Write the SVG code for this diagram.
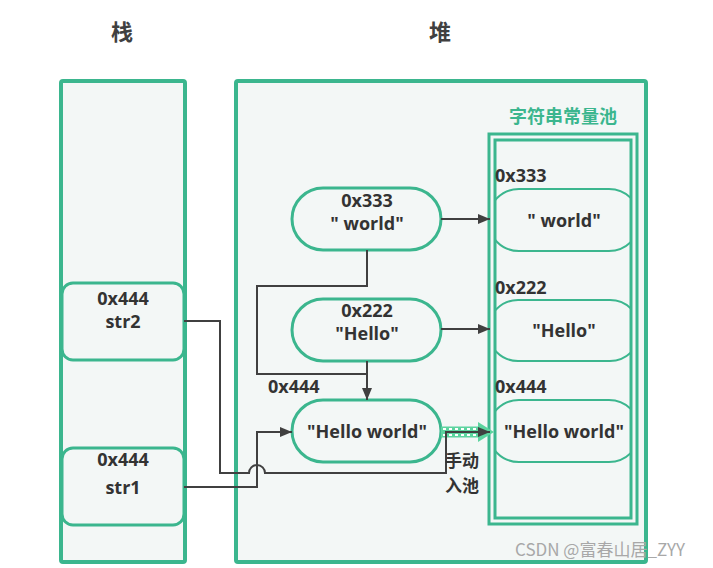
<svg xmlns="http://www.w3.org/2000/svg" width="713" height="568" viewBox="0 0 713 568">
<defs>
<style>
.box{fill:#f3f7f6;stroke:#3bb68e;stroke-width:4}
.pool{fill:none;stroke:#3bb68e;stroke-width:3}
.node{fill:#f3f7f6;stroke:#3bb68e;stroke-width:3}
.pnode{fill:none;stroke:#3bb68e;stroke-width:2}
.t{font-family:"Open Sans","Noto Sans CJK SC",sans-serif;font-weight:bold;font-size:18px;fill:#333333;text-anchor:middle}
.tl{font-family:"Open Sans","Noto Sans CJK SC",sans-serif;font-weight:bold;font-size:18px;fill:#333333}
.title{font-family:"Noto Sans CJK SC",sans-serif;font-weight:bold;font-size:22px;fill:#404040;text-anchor:middle}
.cn{font-family:"Noto Sans CJK SC",sans-serif;font-weight:bold;font-size:17px;fill:#333333}
.edge{fill:none;stroke:#404040;stroke-width:2}
</style>
<marker id="ah" viewBox="0 0 12 10" refX="12" refY="5" markerWidth="12" markerHeight="10" markerUnits="userSpaceOnUse" orient="auto">
<path d="M0,0 L12,5 L0,10 Z" fill="#404040"/>
</marker>
<clipPath id="pc"><rect x="496" y="140" width="135" height="378"/></clipPath>
</defs>
<rect width="713" height="568" fill="#ffffff"/>

<g id="titles">
<text class="title" x="122" y="40">栈</text>
<text class="title" x="440" y="40">堆</text>
</g>

<g id="stack"><rect class="box" x="61" y="81" width="124" height="481" rx="2"/></g>
<g id="heap"><rect class="box" x="236" y="81" width="410" height="481" rx="2"/></g>

<g id="pool">
<rect class="pool" x="489" y="134" width="148" height="390"/>
<rect class="pool" x="495" y="140" width="136" height="378"/>
<text x="563" y="123" style="font-family:'Noto Sans CJK SC',sans-serif;font-weight:bold;font-size:18px;fill:#3bb68e;text-anchor:middle">字符串常量池</text>
</g>

<g id="pool-world">
<rect class="pnode" x="488" y="189" width="152" height="62" rx="31" clip-path="url(#pc)"/>
<text class="tl" x="495" y="182">0x333</text>
<text class="t" x="564" y="227">" world"</text>
</g>
<g id="pool-hello">
<rect class="pnode" x="488" y="300" width="152" height="61" rx="30" clip-path="url(#pc)"/>
<text class="tl" x="495" y="294">0x222</text>
<text class="t" x="564" y="337">"Hello"</text>
</g>
<g id="pool-helloworld">
<rect class="pnode" x="488" y="400" width="152" height="62" rx="31" clip-path="url(#pc)"/>
<text class="tl" x="495" y="393">0x444</text>
<text class="t" x="564" y="438">"Hello world"</text>
</g>

<g id="heap-world">
<rect class="node" x="292" y="188" width="149" height="62" rx="31"/>
<text class="t" x="367" y="207">0x333</text>
<text class="t" x="367" y="230">" world"</text>
</g>
<g id="heap-hello">
<rect class="node" x="292" y="299" width="149" height="62" rx="31"/>
<text class="t" x="367" y="317">0x222</text>
<text class="t" x="367" y="340">"Hello"</text>
</g>
<g id="heap-helloworld">
<rect class="node" x="292" y="400" width="149" height="62" rx="31"/>
<text class="t" x="367" y="438">"Hello world"</text>
</g>

<g id="str2">
<rect class="node" x="62" y="283" width="122" height="77" rx="11"/>
<text class="t" x="123" y="305">0x444</text>
<text class="t" x="123" y="328">str2</text>
</g>
<g id="str1">
<rect class="node" x="62" y="448" width="122" height="77" rx="11"/>
<text class="t" x="123" y="466">0x444</text>
<text class="t" x="123" y="494">str1</text>
</g>

<g id="connectors">
<line class="edge" x1="441" y1="219" x2="490" y2="219" marker-end="url(#ah)"/>
<line class="edge" x1="441" y1="329" x2="490" y2="329" marker-end="url(#ah)"/>
<polyline class="edge" points="367,250 367,286 257,286 257,374 367,374"/>
<line class="edge" x1="367" y1="361" x2="367" y2="400" marker-end="url(#ah)"/>
<text class="tl" x="268" y="393">0x444</text>
<polyline class="edge" points="184,487 257,487 257,432 292,432" marker-end="url(#ah)"/>
<line x1="441" y1="432" x2="478" y2="432" stroke="#5cd49f" stroke-width="11"/>
<path d="M478,422 L494,432 L478,442 Z" fill="#5cd49f"/>
<line x1="443" y1="429" x2="478" y2="429" stroke="#ffffff" stroke-width="2" stroke-dasharray="3,3"/>
<line x1="443" y1="435" x2="478" y2="435" stroke="#ffffff" stroke-width="2" stroke-dasharray="3,3"/>
<path class="edge" d="M184,321 L220,321 L220,473 L249,473 A8,8 0 0 1 265,473 L446,473 L446,432 L490,432" marker-end="url(#ah)"/>
<text class="cn" x="445" y="467">手动</text>
<text class="cn" x="445" y="492">入池</text>
</g>

<text x="515" y="556" style="font-family:'Noto Sans CJK SC',sans-serif;font-size:17px;fill:#a8a8a8">CSDN @富春山居_ZYY</text>
</svg>
